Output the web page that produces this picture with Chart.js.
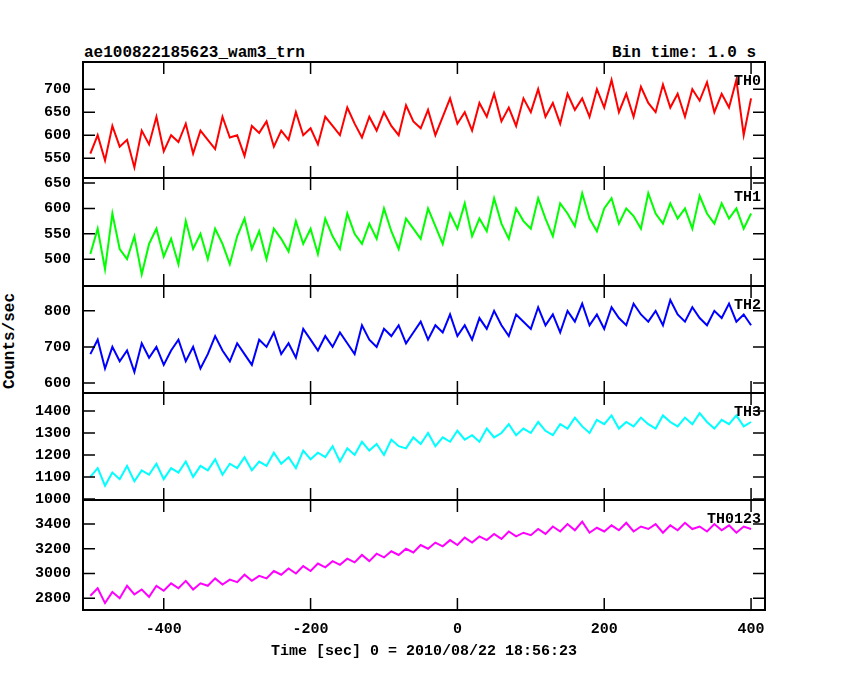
<!DOCTYPE html>
<html><head><meta charset="utf-8">
<script src="https://cdn.jsdelivr.net/npm/chart.js@4"></script>
<style>
body{margin:0;background:#fff;width:850px;height:680px;position:relative;overflow:hidden;font-family:"Liberation Mono",monospace;font-weight:bold}
.w{position:absolute;left:0;width:850px}
.t{position:absolute;font-size:16px;color:#000;white-space:nowrap}
</style></head><body>
<div class="t" style="left:84px;top:44px">ae100822185623_wam3_trn</div>
<div class="t" style="left:612px;top:44px">Bin time: 1.0 s</div>
<div class="t" style="left:-38px;top:332px;transform:rotate(-90deg)">Counts/sec</div>
<script>
const th0=[560,600,545,620,575,590,530,610,580,640,565,600,585,625,560,610,590,570,640,595,600,555,620,605,630,575,610,590,650,600,615,580,640,620,600,660,625,595,640,610,650,620,600,665,630,615,655,600,640,680,625,650,610,670,640,690,630,660,620,680,650,700,640,670,625,690,655,680,640,700,660,720,650,690,640,705,670,650,710,660,690,640,700,675,715,650,690,660,720,600,680];
const th1=[510,560,480,590,520,500,545,470,530,560,505,540,490,575,520,550,500,560,530,490,545,580,520,555,500,560,540,515,575,530,560,510,580,545,520,590,550,530,570,540,600,555,520,580,560,540,600,565,530,590,560,610,545,580,555,620,570,540,600,575,560,620,580,545,610,590,565,630,580,555,600,620,570,600,585,560,630,590,570,610,580,600,560,625,590,570,610,580,600,560,590];
const th2=[680,720,640,700,660,690,630,710,670,700,650,690,720,660,700,640,680,730,690,660,710,680,650,720,700,740,680,710,670,750,720,690,730,700,740,710,680,760,720,700,750,730,760,710,740,770,720,760,740,790,730,760,720,780,750,800,760,730,790,770,750,810,760,790,740,800,770,820,760,790,750,810,780,760,820,790,770,800,760,830,790,770,810,780,760,800,780,820,770,790,760];
const th3=[1100,1140,1060,1120,1090,1150,1080,1130,1110,1160,1090,1140,1120,1170,1100,1150,1130,1180,1110,1160,1140,1190,1130,1170,1150,1210,1160,1190,1140,1220,1180,1210,1190,1240,1170,1230,1200,1260,1220,1250,1200,1270,1240,1230,1280,1250,1300,1240,1280,1260,1310,1270,1290,1260,1320,1280,1300,1340,1290,1320,1300,1350,1310,1290,1340,1320,1370,1330,1300,1360,1340,1380,1320,1350,1330,1370,1340,1320,1380,1350,1330,1370,1340,1390,1350,1320,1360,1340,1380,1330,1350];
const th0123=[2820,2880,2760,2850,2800,2900,2830,2870,2810,2900,2860,2920,2880,2940,2870,2920,2900,2960,2910,2950,2930,2990,2940,2980,2960,3020,2990,3040,3000,3060,3020,3080,3050,3100,3070,3120,3090,3150,3100,3160,3130,3180,3150,3200,3170,3230,3200,3250,3220,3270,3230,3290,3250,3300,3270,3320,3280,3340,3300,3330,3310,3360,3320,3380,3340,3400,3350,3420,3330,3370,3340,3390,3350,3410,3340,3380,3360,3400,3330,3390,3350,3410,3360,3380,3340,3400,3350,3390,3330,3380,3360];
const xTicks=[-400,-200,0,200,400];
const panels=[
 {name:'TH0',data:th0,color:'#ff0000',min:507,max:759,ticks:[550,600,650,700],top:62,h:116},
 {name:'TH1',data:th1,color:'#00ff00',min:447,max:660,ticks:[500,550,600,650],top:178,h:108},
 {name:'TH2',data:th2,color:'#0000ff',min:572,max:869,ticks:[600,700,800],top:286,h:107},
 {name:'TH3',data:th3,color:'#00ffff',min:995,max:1482,ticks:[1000,1100,1200,1300,1400],top:393,h:107},
 {name:'TH0123',data:th0123,color:'#ff00ff',min:2704,max:3595,ticks:[2800,3000,3200,3400],top:500,h:110}
];
const font={family:'"Liberation Mono", monospace',size:15,weight:'bold'};
const tickPlug={id:'tk',afterDraw(c,args,o){const a=c.chartArea,x=c.scales.x,y=c.scales.y,g=c.ctx;g.save();g.strokeStyle='#000';g.lineWidth=2;g.strokeRect(a.left,a.top,a.right-a.left,a.bottom-a.top);
 g.lineWidth=1.5;g.beginPath();
 (o.yt||[]).forEach(v=>{const p=y.getPixelForValue(v);g.moveTo(a.left,p);g.lineTo(a.left+12,p);g.moveTo(a.right,p);g.lineTo(a.right-12,p);});
 xTicks.forEach(v=>{const p=x.getPixelForValue(v);g.moveTo(p,a.top);g.lineTo(p,a.top+12);g.moveTo(p,a.bottom);g.lineTo(p,a.bottom-12);});
 g.stroke();g.fillStyle='#000';g.font='bold 15px "Liberation Mono", monospace';g.textAlign='right';g.textBaseline='top';g.fillText(o.name||'',a.right-4,a.top+12);g.restore();}};
panels.forEach((p,i)=>{
 const last=i===panels.length-1;
 const H=p.h+13+(last?50:13);
 const d=document.createElement('div');d.className='w';d.style.top=(p.top-13)+'px';d.style.height=H+'px';
 const cv=document.createElement('canvas');d.appendChild(cv);document.body.appendChild(d);
 new Chart(cv,{type:'line',data:{datasets:[{data:p.data.map((v,k)=>({x:-500+10*k,y:v})),borderColor:p.color,borderWidth:2,pointRadius:0,tension:0}]},
 options:{responsive:true,maintainAspectRatio:false,animation:false,devicePixelRatio:1,layout:{autoPadding:false,padding:{left:0,right:85,top:0,bottom:0}},plugins:{legend:{display:false},tooltip:{enabled:false},tk:{yt:p.ticks,name:p.name}},
 scales:{x:{type:'linear',min:-510,max:419,display:last,grid:{display:false},border:{display:false},afterBuildTicks:s=>{s.ticks=xTicks.map(v=>({value:v}))},ticks:{color:'#000',font,maxRotation:0,padding:2,callback:v=>String(v)},title:{display:true,text:'Time [sec] 0 = 2010/08/22 18:56:23',color:'#000',font,padding:0},afterFit:s=>{s.height=last?50:0}},
 y:{min:p.min,max:p.max,grid:{display:false},border:{display:false},afterBuildTicks:s=>{s.ticks=p.ticks.map(v=>({value:v}))},ticks:{color:'#000',font,padding:4,callback:v=>String(v)},afterFit:s=>{s.width=83}}}},
 plugins:[tickPlug]});
});
</script></body></html>
